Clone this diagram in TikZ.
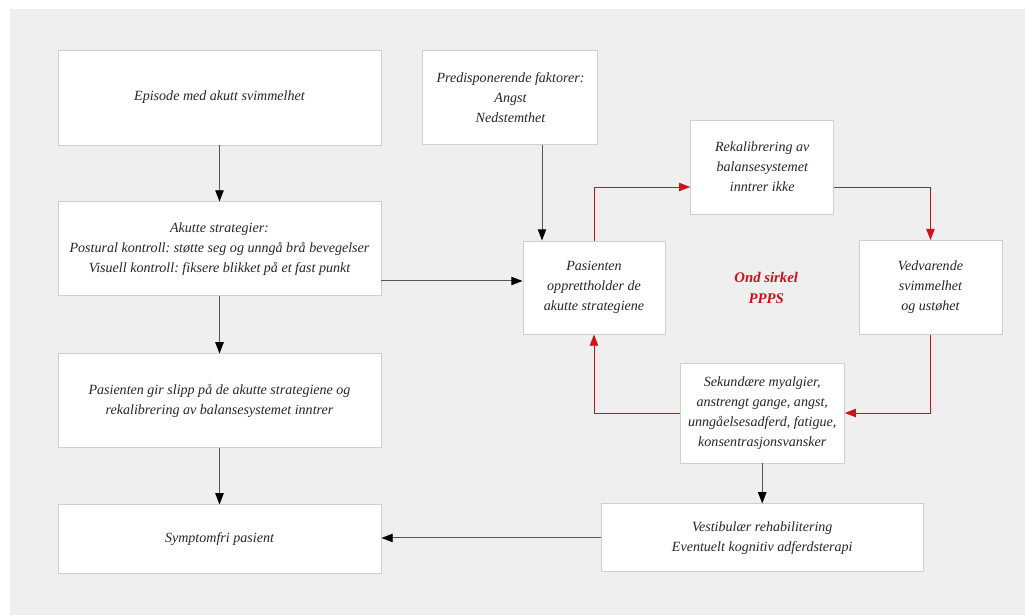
\documentclass[tikz,border=0pt]{standalone}
\usepackage{fontspec}
\setmainfont{Liberation Serif}
\frenchspacing
\usetikzlibrary{arrows.meta,positioning,calc}
\definecolor{bggrey}{HTML}{EFEFEF}
\definecolor{boxline}{HTML}{CFCFCF}
\definecolor{txtgrey}{HTML}{262626}
\definecolor{linegrey}{HTML}{555555}
\definecolor{circred}{HTML}{D0101B}

\begin{document}
\begin{tikzpicture}[line width=0.7pt,
    font=\fontsize{10}{14.2}\selectfont\itshape,
    box/.style={rectangle,fill=white,draw=boxline,align=center,text=txtgrey,minimum width=3.575cm,minimum height=2.35cm},
    left box/.style={box,minimum width=8.075cm},
    black arrow/.style={-{Triangle[length=8pt,width=6pt,color=black]},draw=linegrey},
    red arrow/.style={-{Triangle[length=8pt,width=6pt]},draw=circred}]
  \path[use as bounding box] (0,0) rectangle (25.625,-15.375);
  \fill[bggrey] (0.25,-0.225) rectangle (25.625,-15.375);

  % left column
  \node[left box, minimum height=2.375cm] (ep) at (5.4875,-2.4375) {Episode med akutt svimmelhet};
  \node[left box] (aku) [below=1.4cm of ep] {Akutte strategier:\\Postural kontroll: støtte seg og unngå brå bevegelser\\Visuell kontroll: fiksere blikket på et fast punkt};
  \node[left box] (gir) [below=1.425cm of aku] {Pasienten gir slipp på de akutte strategiene og\\rekalibrering av balansesystemet inntrer};
  \node[left box, minimum height=1.725cm] (sym) [below=1.4cm of gir] {Symptomfri pasient};

  % vicious circle
  \node[box, minimum width=4.375cm] (pre) [right=1.025cm of ep] {Predisponerende faktorer:\\Angst\\Nedstemthet};
  \node[box, minimum width=3.55cm, minimum height=2.325cm] (pas) at (14.85,-7.1875) {Pasienten\\opprettholder de\\akutte strategiene};
  \node[box] (ved) [right=4.825cm of pas] {Vedvarende\\svimmelhet\\og ustøhet};
  \coordinate (mid) at ($(pas)!.5!(ved)$);
  \node[box] (rek) [above=1.825cm of mid] {Rekalibrering av\\balansesystemet\\inntrer ikke};
  \node[box, minimum width=4.1cm, minimum height=2.5cm] (sek) [below=1.875cm of mid] {Sekundære myalgier,\\anstrengt gange, angst,\\unngåelsesadferd, fatigue,\\konsentrasjonsvansker};
  \node[box, minimum width=8.05cm, minimum height=1.7cm] (ves) [below=1cm of sek] {Vestibulær rehabilitering\\Eventuelt kognitiv adferdsterapi};
  \node[align=center, text=circred, font=\fontsize{10.5}{15}\selectfont\bfseries\itshape] (ond) at ([xshift=1mm]mid) {Ond sirkel\\PPPS};

  \coordinate (akuout) at ([yshift=-8mm]aku.east);
  \coordinate (pasin) at ([xshift=-13mm]pas.north);

  \draw[black arrow] (ep) -- (aku);
  \draw[black arrow] (aku) -- (gir);
  \draw[black arrow] (gir) -- (sym);
  \draw[black arrow] (akuout) -- (akuout -| pas.west);
  \draw[black arrow] (pasin |- pre.south) -- (pasin);
  \draw[black arrow] (sek) -- (ves);
  \draw[black arrow] (ves.west) -- (ves.west -| sym.east);

  \draw[red arrow] (pas.north) |- ([yshift=-5mm]rek.west);
  \draw[red arrow] ([yshift=-5mm]rek.east) -| (ved.north);
  \draw[red arrow] (ved.south) |- (sek.east);
  \draw[red arrow] (sek.west) -| (pas.south);
\end{tikzpicture}
\end{document}
